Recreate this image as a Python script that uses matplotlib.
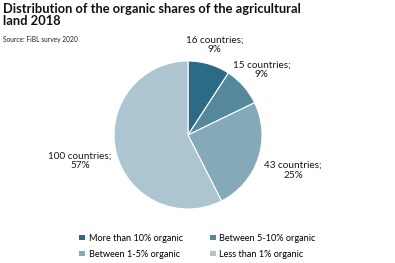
import numpy as np
import matplotlib as mpl
mpl.use('Agg')
import matplotlib.pyplot as plt
from matplotlib.patches import Patch

# Data
categories = ['More than 10% organic', 'Between 5-10% organic',
              'Between 1-5% organic', 'Less than 1% organic']
countries = [16, 15, 43, 100]
shares = [9, 9, 25, 57]
colors = ['#2c6a85', '#56889c', '#84a9b9', '#adc5d1']

plt.rcParams['font.family'] = ['Lato', 'DejaVu Sans']

fig = plt.figure(figsize=(3.95, 2.63), dpi=100)
ax = fig.add_axes([0.2418, 0.135, 0.4684, 0.7034])

wedges, _ = ax.pie(countries, colors=colors, startangle=90, counterclock=False,
                   wedgeprops=dict(edgecolor='white', linewidth=0.8))
ax.set_xlim(-1.25, 1.25)
ax.set_ylim(-1.25, 1.25)
ax.set_aspect('equal')

# Data labels around the pie
label_dist = [1.27, 1.33, 1.5, 1.5]
for w, n, s, d in zip(wedges, countries, shares, label_dist):
    ang = np.deg2rad((w.theta1 + w.theta2) / 2.0)
    ax.text(d * np.cos(ang), d * np.sin(ang), '%d countries;\n%d%%' % (n, s),
            ha='center', va='center', fontsize=7.2, color='#1a1a1a',
            linespacing=1.1)

# Title and source
fig.text(0.008, 0.99, 'Distribution of the organic shares of the agricultural\nland 2018',
         ha='left', va='top', fontsize=9.3, fontweight='bold', color='#111111',
         linespacing=1.0)
fig.text(0.008, 0.862, 'Source: FiBL survey 2020', ha='left', va='top',
         fontsize=4.8, color='#222222')

# Legend
handles = [Patch(facecolor=c, edgecolor='none') for c in colors]
order = [0, 2, 1, 3]
fig.legend([handles[i] for i in order], [categories[i] for i in order],
           ncol=2, loc='lower center', bbox_to_anchor=(0.5, -0.015),
           frameon=False, fontsize=6.6, handlelength=0.6, handleheight=0.6,
           handletextpad=0.4, columnspacing=3.0, labelspacing=0.75)

fig.savefig('out.png', dpi=100)
